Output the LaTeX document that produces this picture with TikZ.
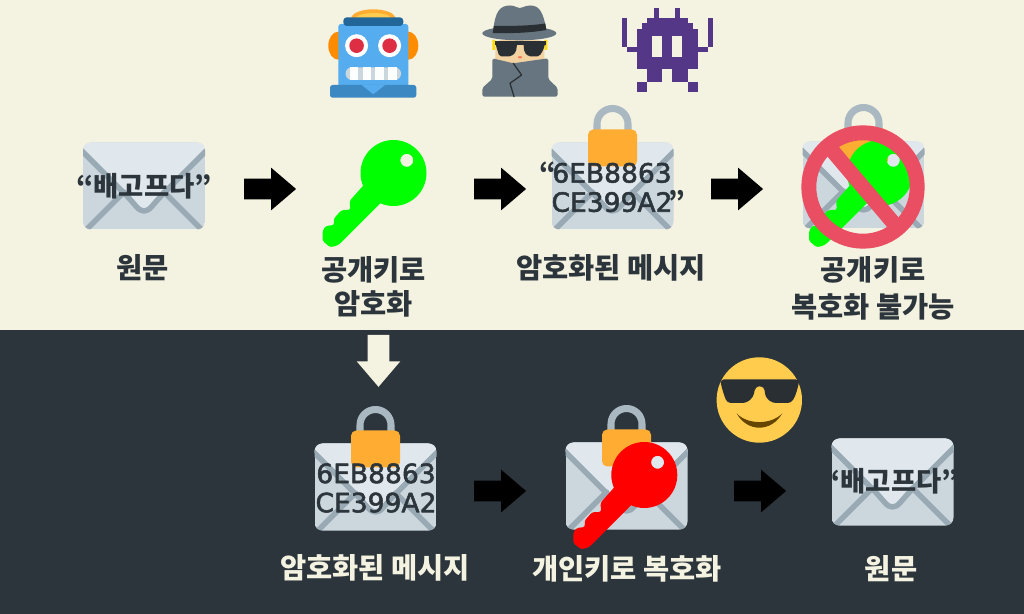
\documentclass[tikz,border=0pt]{standalone}
\usepackage{fontspec}
\setmainfont{Noto Sans CJK KR}
\newfontfamily\latinfont[FakeBold=2]{DejaVu Sans}
\usetikzlibrary{shapes.arrows}
\definecolor{paper}{HTML}{F4F2E1}
\definecolor{slate}{HTML}{2C353B}
\definecolor{envlow}{HTML}{CCD6DD}
\definecolor{envtop}{HTML}{E1E8ED}
\definecolor{envline}{HTML}{99AAB5}
\definecolor{shackle}{HTML}{AAB8C2}
\definecolor{lockbody}{HTML}{FFAC33}
\definecolor{banred}{HTML}{EA4E62}
\definecolor{robotblue}{HTML}{55ACEE}
\definecolor{robotbase}{HTML}{3B88C3}
\definecolor{robotband}{HTML}{226699}
\definecolor{roboteye}{HTML}{DD2E44}
\definecolor{coat}{HTML}{66757F}
\definecolor{inkdark}{HTML}{292F33}
\definecolor{skin}{HTML}{F3D2A2}
\definecolor{invader}{HTML}{553788}
\definecolor{sunny}{HTML}{FFCC4D}
\definecolor{grin}{HTML}{664500}
\tikzset{
	envelope/.pic={
		\begin{scope}
			\clip[rounded corners=4.5pt] (-61,-43.5) rectangle (61,43.5);
			\fill[envlow] (-61,-43.5) rectangle (61,43.5);
			\fill[envtop] (-61,-43.5) -- (-61,-34) -- (-20,7) .. controls (-8,30) and (8,30) .. (20,7) -- (61,-34) -- (61,-43.5) -- cycle;
			\draw[envline, line width=3.1pt] (-60,46) -- (-20,6) (60,46) -- (20,6);
			\draw[envline, line width=3.1pt] (-63,-36) -- (-20,7) .. controls (-8,19) and (-6,25) .. (0,25) .. controls (6,25) and (8,19) .. (20,7) -- (63,-36);
		\end{scope}
	},
	padlock/.pic={
		\draw[shackle, line width=4pt] (-15.5,-53) -- (-15.5,-62) arc[start angle=180, end angle=360, radius=15.5] -- (15.5,-53);
		\fill[lockbody, rounded corners=3pt] (-24.5,-56.5) rectangle (24.5,-19.5);
	},
	keyicon/.pic={
		\path[pic actions, even odd rule] (0,0) circle (33) (13.3,-12.7) circle (6.5);
		\path[pic actions, rounded corners=1.5pt] (-20,1) -- (-44,28) -- (-43,37) -- (-52,37) -- (-60,46) -- (-59,52) -- (-68,53) -- (-71,58) -- (-71,68) -- (-63,74.5) -- (-55,72) -- (0,17) -- cycle;
	},
	banmark/.pic={
		\draw[banred, line width=8.5pt] (0,0) circle (54.2);
		\draw[banred, line width=8.5pt] (-33,-39) -- (33,39);
	},
	robot/.pic={
		\foreach \s in {-1,1}
			\fill[orange!90!yellow] (\s*35,45.7) ellipse (10 and 14);
		\fill[lockbody] (0,18.3) ellipse (22 and 9);
		\fill[sunny] (0,19) ellipse (18 and 6);
		\fill[robotblue, rounded corners=1.5pt] (-35,24) rectangle (35,90);
		\fill[robotband, rounded corners=2pt] (-30,17.3) rectangle (30,26);
		\fill[robotbase, rounded corners=1.5pt] (-43.3,85) rectangle (43,97.7);
		\fill[robotblue] (-11.7,85) -- (0,94.3) -- (11.7,85) -- cycle;
		\foreach \ex in {-16.7,16.3} {
			\fill[white] (\ex,45.7) circle (11.5);
			\fill[roboteye] (\ex,45.7) circle (7.3);
		}
		\fill[envlow, rounded corners=3.5pt] (-27.7,67.3) rectangle (27.7,80);
		\foreach \ma/\mb in {-23.3/-15,-10.7/-2.3,2/10.7,15/23.3}
			\fill[white!95!envlow] (\ma,67.3) rectangle (\mb,80);
	},
	spy/.pic={
		\fill[yellow!80!orange] (-27,40) rectangle (-24,50) (25,40) rectangle (28,50);
		\fill[skin, rounded corners=3pt] (-24,40) rectangle (25,66);
		\fill[inkdark, rounded corners=1pt] (-24.3,42) -- (-2,42) -- (-3.3,52) -- (-8,56.3) -- (-20,56.3) -- (-22,50) -- cycle;
		\fill[inkdark, rounded corners=1pt] (26.3,42) -- (4,42) -- (5,52) -- (9,56.3) -- (20,56.3) -- (24,50) -- cycle;
		\fill[inkdark] (-24.3,41) rectangle (26.3,45);
		\fill[red!40!skin] (0.7,57.3) ellipse (2.2 and 1.3);
		\fill[coat, rounded corners=1pt] (-27,58.3) -- (-6,63.3) -- (29,58.3) -- (29,79) -- (38.3,88) -- (38.3,96.7) -- (-37,96.7) -- (-37,88) -- (-27,79) -- cycle;
		\draw[inkdark, line width=0.7pt] (-6,63.3) -- (2.3,75) -- (-9.3,83.3) -- (-5.3,96.7);
		\fill[coat] (-26,30) .. controls (-24,12) and (-20,5.5) .. (-9,5.5) .. controls (-4,5.5) and (-3,8) .. (0,8) .. controls (3,8) and (6,5.5) .. (11,5.5) .. controls (20,5.5) and (24,12) .. (27,30) -- cycle;
		\fill[coat] (0,33.3) ellipse (37 and 7);
		\fill[inkdark] (-25.5,26) .. controls (-10,26) and (10,26) .. (26,23.5) -- (27,30) .. controls (10,33) and (-10,33.5) .. (-26.5,33) -- cycle;
	},
	spacebug/.pic={
		\foreach \s in {-1,1} {
			\begin{scope}[xscale=\s]
				\foreach \xa/\ya/\xb/\yb in {-12.8/8.3/-7.8/18.5,-20.5/18.3/0/23.5,-25.5/23.3/0/29.2,-30.5/29/0/69.5,-45.5/18.3/-40.5/46.9,-40.5/46.7/-30.4/51.7,-20.5/69.3/-5/81.9,-30.5/81.7/-20.5/92}
					\fill[invader] (\xa,\ya) rectangle (\xb,\yb);
				\fill[paper] (-15.2,36) rectangle (-4.8,56.7);
			\end{scope}
		}
	},
	smiley/.pic={
		\fill[sunny] (0,0) circle (42.7);
		\fill[inkdark, rounded corners=2pt] (-38.7,-20.7) -- (39.7,-20.7) -- (39.5,-16) -- (36,-4) -- (32,3) -- (13,3) -- (6,-3) -- (5,-13) -- (0,-14) -- (-4,-13) -- (-6,-3) -- (-13,3) -- (-32,3) -- (-35,-4) -- (-38.5,-16) -- cycle;
		\fill[grin] (-22.7,13.3) .. controls (-12,32.5) and (12,32.5) .. (23,13.3) .. controls (12,25) and (-12,25) .. (-22.7,13.3) -- cycle;
	}
}
\begin{document}
\begin{tikzpicture}[
		x=0.02cm, y=-0.02cm,
		line cap=round,
		line join=round,
		label/.style={font=\bfseries\fontsize{16.2}{19.5}\selectfont, align=center, inner sep=0pt},
		inkmail/.style={text=slate, font=\bfseries\fontsize{15.6}{16.6}\selectfont, align=center, inner sep=0pt},
		cipher/.style={text=slate, font=\latinfont\fontsize{15.1}{16.6}\selectfont, align=center, inner sep=0pt},
		blockarrow/.style={shape=single arrow, fill=black, inner xsep=0pt, inner ysep=0.2cm, minimum height=1.04cm, single arrow head extend=0.22cm, single arrow tip angle=81, single arrow head indent=0pt},
		downarrow/.style={blockarrow, fill=paper, inner xsep=0.21cm, inner ysep=0pt, shape border rotate=270}
	]
	\useasboundingbox (0,0) rectangle (1024,614);
	\fill[paper] (0,0) rectangle (1024,330);
	\fill[slate] (0,330) rectangle (1024,614);
	
	\pic (bot) at (373.3,0) {robot};
	\pic (agent) at (519.3,0) {spy};
	\pic (bug) at (667.2,0) {spacebug};
	
	\pic (env1) at (144,186) {envelope};
	\node[inkmail] (plain1) at (144,186) {“배고프다”};
	\node[label, text=slate] (lab1) at (142.5,268) {원문};
	\node[blockarrow] (arr1) at (264,189) {};
	
	\pic[fill=green] (pubkey) at (393.5,173) {keyicon};
	\node[label, text=slate, anchor=north] (lab2) at (373.5,256) {공개키로\\암호화};
	\node[blockarrow] (arr2) at (494,189) {};
	
	\pic (env2) at (612.5,186) {envelope};
	\pic (lock2) at (612.5,186) {padlock};
	\node[cipher] (code1) at (612,187) {\llap{\normalfont\bfseries “\kern-2pt}6EB8863\\CE399A2\rlap{\normalfont\bfseries \kern-2pt”}};
	\node[label, text=slate] (lab3) at (611,268) {암호화된 메시지};
	\node[blockarrow] (arr3) at (731,189) {};
	
	\pic (env3) at (863.5,185) {envelope};
	\pic (lock3) at (863.5,185) {padlock};
	\pic[fill=green] (pubkey2) at (880,173) {keyicon};
	\pic (nope) at (863,187) {banmark};
	\node[label, text=slate, anchor=north] (lab4) at (873,256) {공개키로\\[1.5pt]복호화 불가능};
	
	\node[downarrow] (arr4) at (378.5,354.5) {};
	
	\pic (env4) at (375.5,487) {envelope};
	\pic (lock4) at (375.5,487) {padlock};
	\node[cipher] (code2) at (376,488) {6EB8863\\CE399A2};
	\node[label, text=paper] (lab5) at (375,568) {암호화된 메시지};
	\node[blockarrow] (arr5) at (494,491) {};
	
	\pic (env5) at (626.5,486) {envelope};
	\pic (lock5) at (626.5,486) {padlock};
	\pic[fill=red] (privkey) at (644.3,475) {keyicon};
	\node[label, text=paper] (lab6) at (627,569) {개인키로 복호화};
	\pic (cool) at (759.3,400) {smiley};
	\node[blockarrow] (arr6) at (754,491) {};
	
	\pic (env6) at (892.5,482) {envelope};
	\node[inkmail] (plain2) at (891,481) {“배고프다”};
	\node[label, text=paper] (lab7) at (891,569) {원문};
\end{tikzpicture}
\end{document}
